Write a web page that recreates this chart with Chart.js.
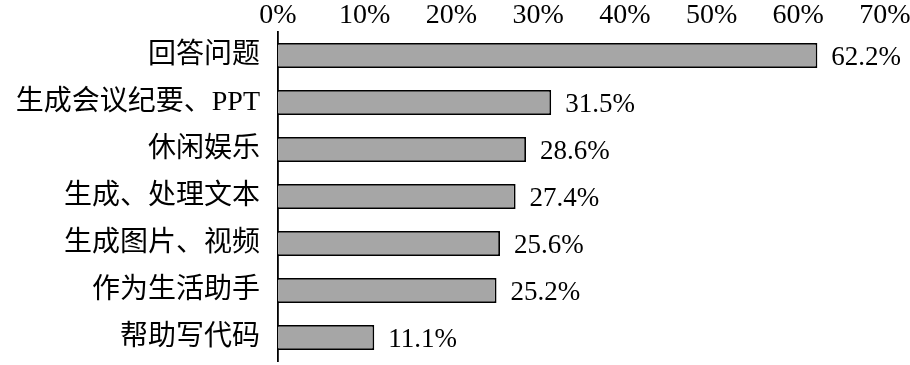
<!DOCTYPE html>
<html>
<head>
<meta charset="utf-8">
<style>
  html, body { margin: 0; padding: 0; background: #fff; }
  #wrap { width: 910px; height: 365px; }
</style>
<script src="https://cdn.jsdelivr.net/npm/chart.js@4"></script>
</head>
<body>
<div id="wrap"><canvas id="usageChart"></canvas></div>
<script>
const categories = ['回答问题', '生成会议纪要、PPT', '休闲娱乐', '生成、处理文本', '生成图片、视频', '作为生活助手', '帮助写代码'];
const shares = [62.2, 31.5, 28.6, 27.4, 25.6, 25.2, 11.1];
const axisMax = 70;
const axisStep = 10;

const fontFamily = '"Liberation Serif", "Times New Roman", "Noto Sans CJK SC", serif';

// value labels at the end of each bar
const endLabels = {
    id: 'endLabels',
    afterDatasetsDraw(chart) {
        const ctx = chart.ctx;
        const meta = chart.getDatasetMeta(0);
        ctx.save();
        ctx.fillStyle = '#000';
        ctx.font = '27px ' + fontFamily;
        ctx.textAlign = 'left';
        ctx.textBaseline = 'middle';
        meta.data.forEach((bar, i) => {
            ctx.fillText(shares[i].toFixed(1) + '%', bar.x + 14, bar.y + 2);
        });
        ctx.restore();
    }
};

new Chart(document.getElementById('usageChart').getContext('2d'), {
    type: 'bar',
    data: {
        labels: categories,
        datasets: [{
            data: shares,
            backgroundColor: '#a6a6a6',
            borderColor: '#000',
            borderWidth: 1.8,
            categoryPercentage: 1,
            barPercentage: 0.53
        }]
    },
    options: {
        indexAxis: 'y',
        responsive: true,
        maintainAspectRatio: false,
        animation: false,
        layout: { padding: { left: 0, right: 25, top: 0, bottom: 4 } },
        plugins: {
            legend: { display: false },
            tooltip: { enabled: false }
        },
        scales: {
            x: {
                position: 'top',
                min: 0,
                max: axisMax,
                grid: { display: false, drawTicks: false },
                border: { display: false },
                ticks: {
                    stepSize: axisStep,
                    color: '#000',
                    padding: 0,
                    font: { family: fontFamily, size: 28 },
                    callback: v => v + '%'
                },
                afterFit: scale => {
                    scale.height = 32;
                    scale.paddingLeft = 0;
                    scale.paddingRight = 0;
                }
            },
            y: {
                grid: { display: false, drawTicks: false },
                border: { display: true, color: '#000', width: 1.8 },
                ticks: {
                    color: '#000',
                    padding: 18,
                    font: { family: fontFamily, size: 28 }
                },
                afterFit: scale => {
                    scale.width = 278;
                    scale.paddingTop = 0;
                    scale.paddingBottom = 0;
                }
            }
        }
    },
    plugins: [endLabels]
});
</script>
</body>
</html>
